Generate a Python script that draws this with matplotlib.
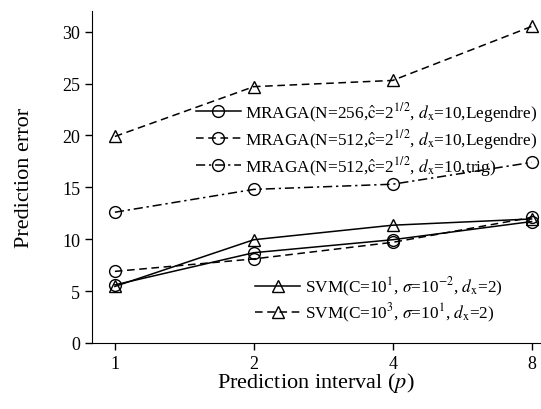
import matplotlib
matplotlib.use("Agg")
import matplotlib.pyplot as plt

plt.rcParams['font.family'] = ['Liberation Serif', 'DejaVu Serif']
plt.rcParams['mathtext.fontset'] = 'stix'

x_labels = ['1', '2', '4', '8']
mraga256_leg = [5.6, 8.7, 9.95, 11.7]
mraga512_leg = [6.9, 8.1, 9.7, 12.1]
mraga512_trig = [12.6, 14.8, 15.3, 17.4]
svm_c1 = [5.45, 9.95, 11.35, 11.95]
svm_c3 = [19.9, 24.7, 25.3, 30.5]

labels_mraga = [
    r'MRAGA(N=256,$\hat{\mathrm{c}}$=2$^{1/2}$, $d_{\mathrm{x}}$=10,Legendre)',
    r'MRAGA(N=512,$\hat{\mathrm{c}}$=2$^{1/2}$, $d_{\mathrm{x}}$=10,Legendre)',
    r'MRAGA(N=512,$\hat{\mathrm{c}}$=2$^{1/2}$, $d_{\mathrm{x}}$=10,trig)',
]
labels_svm = [
    r'SVM(C=10$^{1}$, $\sigma$=10$^{-2}$, $d_{\mathrm{x}}$=2)',
    r'SVM(C=10$^{3}$, $\sigma$=10$^{1}$, $d_{\mathrm{x}}$=2)',
]

fig = plt.figure(figsize=(5.41, 4.10), dpi=100)
ax = fig.add_axes([0.170, 0.161, 0.828, 0.810])
xs = list(range(len(x_labels)))
ms = 8.5
kw = dict(color='black', lw=1.1, markerfacecolor='none', markeredgecolor='black', markersize=ms, markeredgewidth=1.0)

l1, = ax.plot(xs, mraga256_leg, '-', marker='o', **kw)
l2, = ax.plot(xs, mraga512_leg, '--', marker='o', dashes=(5, 3), **kw)
l3, = ax.plot(xs, mraga512_trig, '-.', marker='o', dashes=(6, 2.5, 1.5, 2.5), **kw)
l4, = ax.plot(xs, svm_c1, '-', marker='^', **kw)
l5, = ax.plot(xs, svm_c3, '--', marker='^', dashes=(5, 3), **kw)

ax.set_xlim(-0.165, 3.06)
ax.set_ylim(0, 32)
ax.set_xticks(xs)
ax.set_xticklabels(x_labels)
ax.set_yticks(range(0, 31, 5))
ax.tick_params(direction='out', labelsize=13, length=5, width=1)
ax.spines['top'].set_visible(False)
ax.spines['right'].set_visible(False)
ax.set_xlabel(r'Prediction interval ($p$)', fontsize=16, labelpad=-1)
ax.set_ylabel('Prediction error', fontsize=16, labelpad=20)

fs = 12.4
leg1 = ax.legend([l1, l2, l3], labels_mraga, loc='upper left', bbox_to_anchor=(0.232, 0.732),
                 frameon=False, fontsize=fs, handlelength=2.6, handletextpad=0.25,
                 labelspacing=0.17, borderaxespad=0, borderpad=0)
ax.add_artist(leg1)
ax.legend([l4, l5], labels_svm, loc='upper left', bbox_to_anchor=(0.365, 0.205),
          frameon=False, fontsize=fs, handlelength=2.6, handletextpad=0.25,
          labelspacing=0.17, borderaxespad=0, borderpad=0)

fig.savefig('out.png', dpi=100)
